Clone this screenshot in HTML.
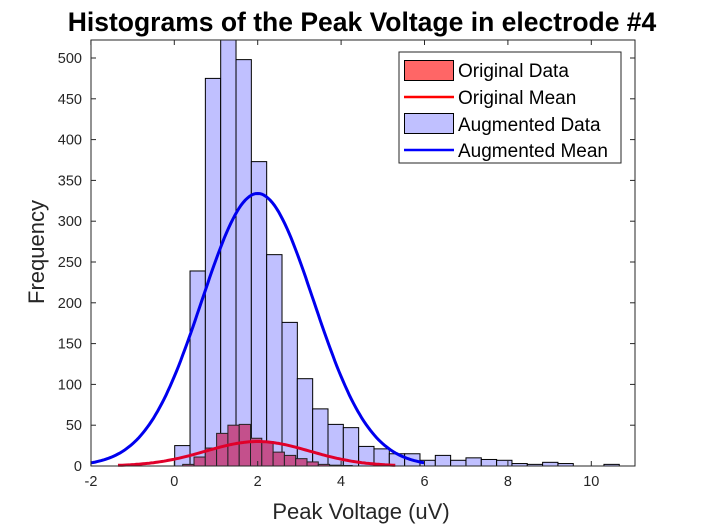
<!DOCTYPE html>
<html><head><meta charset="utf-8"><style>
html,body{margin:0;padding:0;background:#fff;width:701px;height:525px;overflow:hidden}
svg text{font-family:"Liberation Sans",Arial,sans-serif}
</style></head><body>
<svg id="s" width="701" height="525" viewBox="0 0 701 525" xmlns="http://www.w3.org/2000/svg">
<rect width="701" height="525" fill="#fff"/>
<g id="bars"></g>
<g id="curves"></g>
<rect x="91" y="40" width="544" height="426" fill="none" stroke="#262626" stroke-width="1"/>
<g id="ticks" stroke="#262626" stroke-width="1"></g>
<g font-size="14.5" fill="#262626" text-anchor="end">
<text x="82" y="471">0</text>
<text x="82" y="430.2">50</text>
<text x="82" y="389.4">100</text>
<text x="82" y="348.6">150</text>
<text x="82" y="307.8">200</text>
<text x="82" y="267">250</text>
<text x="82" y="226.2">300</text>
<text x="82" y="185.4">350</text>
<text x="82" y="144.6">400</text>
<text x="82" y="103.8">450</text>
<text x="82" y="63">500</text>
</g>
<g font-size="14.5" fill="#262626" text-anchor="middle">
<text x="91" y="486">-2</text>
<text x="174.3" y="486">0</text>
<text x="257.7" y="486">2</text>
<text x="341" y="486">4</text>
<text x="424.5" y="486">6</text>
<text x="507.9" y="486">8</text>
<text x="591.3" y="486">10</text>
</g>
<text x="362" y="31" font-size="26.5" font-weight="bold" text-anchor="middle" fill="#000">Histograms of the Peak Voltage in electrode #4</text>
<text x="361" y="519" font-size="22" text-anchor="middle" fill="#262626">Peak Voltage (uV)</text>
<text transform="translate(44,252) rotate(-90)" font-size="22" text-anchor="middle" fill="#262626">Frequency</text>
<rect x="399" y="52" width="222" height="111" fill="#fff" stroke="#262626" stroke-width="1"/>
<rect x="404.5" y="60.5" width="49" height="20" fill="#ff6666" stroke="#000" stroke-width="1"/>
<line x1="404" y1="97" x2="454" y2="97" stroke="#f00" stroke-width="2.5"/>
<rect x="404.5" y="113.5" width="49" height="20" fill="#c0c0ff" stroke="#000" stroke-width="1"/>
<line x1="404" y1="150" x2="454" y2="150" stroke="#00f" stroke-width="2.5"/>
<g font-size="19" fill="#000">
<text x="458" y="77">Original Data</text>
<text x="458" y="104">Original Mean</text>
<text x="458" y="131">Augmented Data</text>
<text x="458" y="157">Augmented Mean</text>
</g>
</svg>
<script>
var NS="http://www.w3.org/2000/svg";
function X(v){return 174.3+41.7*v;}
function Y(c){return 466-0.816*c;}
function el(p,n,a){var e=document.createElementNS(NS,n);for(var k in a)e.setAttribute(k,a[k]);p.appendChild(e);return e;}
var bars=document.getElementById('bars'),cur=document.getElementById('curves'),tk=document.getElementById('ticks');
var aug=[25,239,475,523,498,373,259,176,107,70,51,47,24,21,15,15,7,13,7,10,8,7,3,2,4.5,3,0,0,2,0];
var w=15.33,x0=174.7;
for(var i=0;i<aug.length;i++){if(aug[i]>0){var y=Math.max(Y(aug[i]),40);el(bars,'rect',{x:x0+i*w,y:y,width:w,height:466-y,fill:'#c0c0ff',stroke:'#000','stroke-width':1});}}
var org=[2,11,22,40,50,51,34,30,17,13,9,5,2,1,0.6];
var rw=11.3,r0=182.7;
for(var i=0;i<org.length;i++){var y=Y(org[i]);el(bars,'rect',{x:r0+i*rw,y:y,width:rw,height:466-y,fill:'#c4508c',stroke:'#222','stroke-width':1});}
function gauss(a,m,s,x1,x2,col){var d='';for(var v=x1;v<=x2+1e-9;v+=0.05){var c=a*Math.exp(-(v-m)*(v-m)/(2*s*s));d+=(d?'L':'M')+X(v).toFixed(1)+','+Y(c).toFixed(1);}el(cur,'path',{d:d,fill:'none',stroke:col,'stroke-width':3});}
gauss(30,2,1.25,-1.35,5.3,'#e0002a');
gauss(334,2,1.34,-2,6,'#0000ee');
for(var c=0;c<=500;c+=50){var y=Y(c);el(tk,'line',{x1:91,y1:y,x2:96,y2:y});el(tk,'line',{x1:635,y1:y,x2:630,y2:y});}
for(var v=-2;v<=10;v+=2){var x=X(v);el(tk,'line',{x1:x,y1:466,x2:x,y2:461});el(tk,'line',{x1:x,y1:40,x2:x,y2:45});}
</script>
</body></html>
